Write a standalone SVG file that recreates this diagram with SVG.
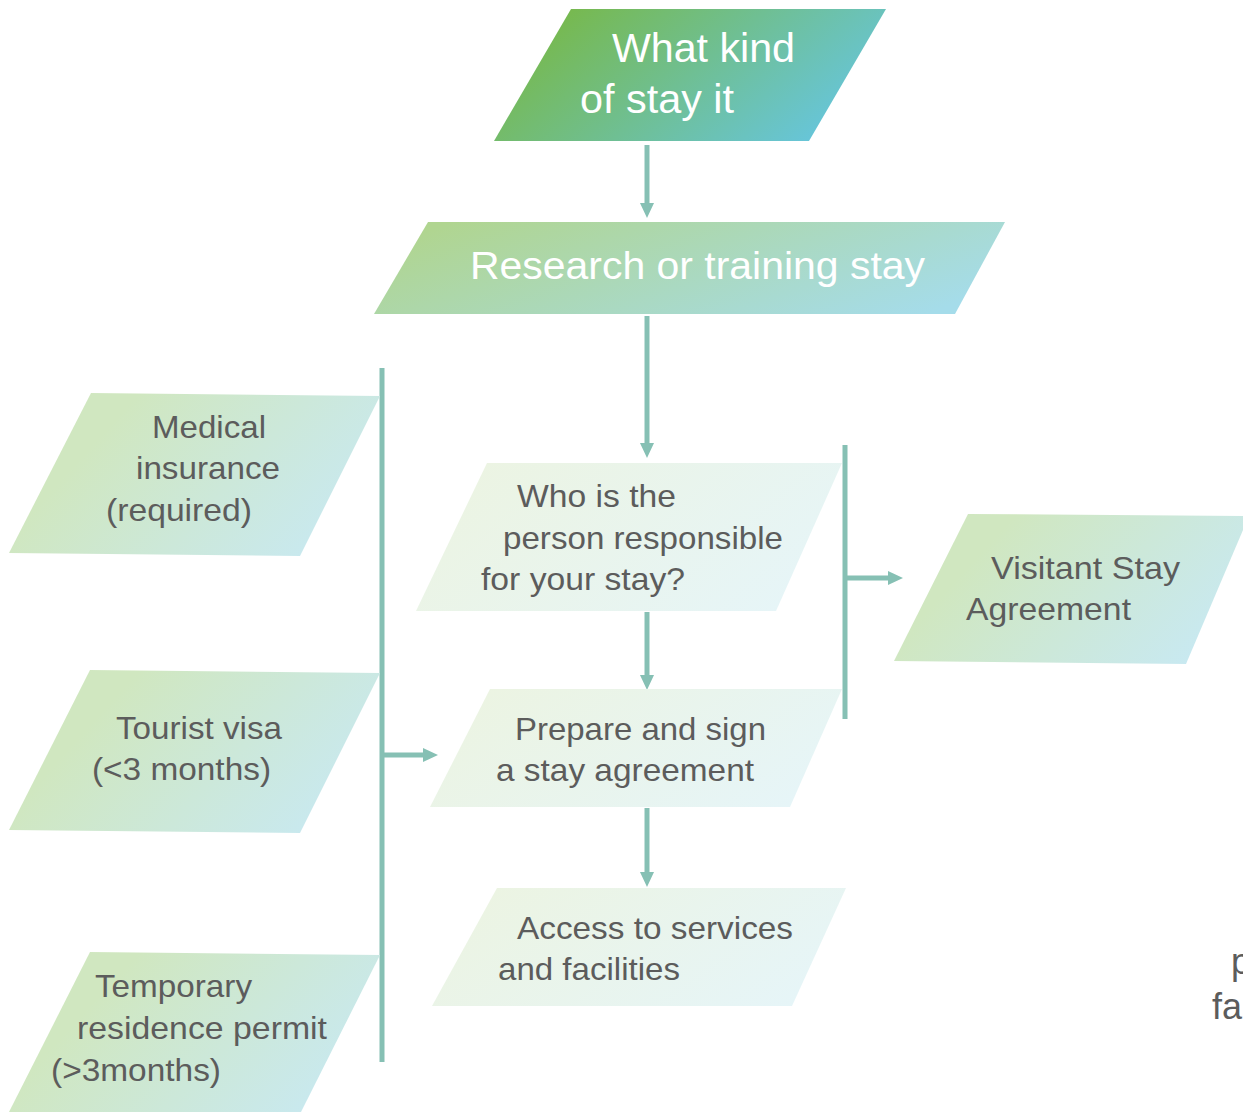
<svg xmlns="http://www.w3.org/2000/svg" width="1243" height="1112" viewBox="0 0 1243 1112">
<defs>
<linearGradient id="gTop" x1="0" y1="0.3" x2="1" y2="0.7"><stop offset="0" stop-color="#78b845"/><stop offset="1" stop-color="#66c6e2"/></linearGradient>
<linearGradient id="gRes" x1="0" y1="0.3" x2="1" y2="0.7"><stop offset="0" stop-color="#b0d590"/><stop offset="1" stop-color="#a5dcea"/></linearGradient>
<linearGradient id="gLight" x1="0" y1="0.3" x2="1" y2="0.7"><stop offset="0" stop-color="#ecf4e2"/><stop offset="1" stop-color="#e6f5f8"/></linearGradient>
<linearGradient id="gSide" x1="0" y1="0.3" x2="1" y2="0.7"><stop offset="0.2" stop-color="#d0e7c0"/><stop offset="1" stop-color="#c8e9f3"/></linearGradient>
<marker id="arr" markerUnits="userSpaceOnUse" markerWidth="16" markerHeight="16" refX="0" refY="8" orient="auto" viewBox="0 0 16 16"><path d="M0,1 L15,8 L0,15 Z" fill="#86c0b4"/></marker>
<style>
.dk{font-family:"Liberation Sans",Arial,sans-serif;font-size:32px;fill:#5c5c5c;}
.wt{font-family:"Liberation Sans",Arial,sans-serif;fill:#ffffff;}
.ln{stroke:#86c0b4;stroke-width:5;fill:none;}
.edge{font-family:"Liberation Sans",Arial,sans-serif;font-size:36px;fill:#5c5c5c;}
</style>
</defs>
<rect width="1243" height="1112" fill="#ffffff"/>
<g id="connectors">
<line class="ln" x1="647" y1="145" x2="647" y2="203" marker-end="url(#arr)"/>
<line class="ln" x1="647" y1="316" x2="647" y2="443" marker-end="url(#arr)"/>
<line class="ln" x1="647" y1="612" x2="647" y2="675" marker-end="url(#arr)"/>
<line class="ln" x1="647" y1="808" x2="647" y2="872" marker-end="url(#arr)"/>
<line class="ln" x1="382" y1="368" x2="382" y2="1062"/>
<line class="ln" x1="845" y1="445" x2="845" y2="719"/>
<line class="ln" x1="847" y1="578" x2="888" y2="578" marker-end="url(#arr)"/>
<line class="ln" x1="384" y1="755" x2="423" y2="755" marker-end="url(#arr)"/>
</g>
<g id="n-top">
<polygon points="571,9 886,9 809,141 494,141" fill="url(#gTop)"/>
<text class="wt" font-size="40" x="612" y="62" textLength="183" lengthAdjust="spacingAndGlyphs">What kind</text>
<text class="wt" font-size="40" x="580" y="113" textLength="154" lengthAdjust="spacingAndGlyphs">of stay it</text>
</g>
<g id="n-research">
<polygon points="428,222 1005,222 955,314 374,314" fill="url(#gRes)"/>
<text class="wt" font-size="38" x="470" y="279" textLength="455" lengthAdjust="spacingAndGlyphs">Research or training stay</text>
</g>
<g id="n-who">
<polygon points="487,463 842,463 776,611 416,611" fill="url(#gLight)"/>
<text class="dk" x="517" y="507" textLength="159" lengthAdjust="spacingAndGlyphs">Who is the</text>
<text class="dk" x="503" y="549" textLength="280" lengthAdjust="spacingAndGlyphs">person responsible</text>
<text class="dk" x="481" y="590" textLength="204" lengthAdjust="spacingAndGlyphs">for your stay?</text>
</g>
<g id="n-prepare">
<polygon points="490,689 842,689 790,807 430,807" fill="url(#gLight)"/>
<text class="dk" x="515" y="740" textLength="251" lengthAdjust="spacingAndGlyphs">Prepare and sign</text>
<text class="dk" x="496" y="781" textLength="258" lengthAdjust="spacingAndGlyphs">a stay agreement</text>
</g>
<g id="n-access">
<polygon points="497,888 846,888 792,1006 432,1006" fill="url(#gLight)"/>
<text class="dk" x="517" y="939" textLength="276" lengthAdjust="spacingAndGlyphs">Access to services</text>
<text class="dk" x="498" y="980" textLength="182" lengthAdjust="spacingAndGlyphs">and facilities</text>
</g>
<g id="n-visitant">
<polygon points="968,514 1243,516 1243,530 1186,664 894,661" fill="url(#gSide)"/>
<text class="dk" x="991" y="579" textLength="189" lengthAdjust="spacingAndGlyphs">Visitant Stay</text>
<text class="dk" x="966" y="620" textLength="165" lengthAdjust="spacingAndGlyphs">Agreement</text>
</g>
<g id="n-medical">
<polygon points="91,393 380,396 300,556 9,553" fill="url(#gSide)"/>
<text class="dk" x="152" y="438" textLength="114" lengthAdjust="spacingAndGlyphs">Medical</text>
<text class="dk" x="136" y="479" textLength="144" lengthAdjust="spacingAndGlyphs">insurance</text>
<text class="dk" x="106" y="521" textLength="146" lengthAdjust="spacingAndGlyphs">(required)</text>
</g>
<g id="n-tourist">
<polygon points="90,670 380,673 300,833 9,830" fill="url(#gSide)"/>
<text class="dk" x="116" y="739" textLength="166" lengthAdjust="spacingAndGlyphs">Tourist visa</text>
<text class="dk" x="92" y="780" textLength="179" lengthAdjust="spacingAndGlyphs">(&lt;3 months)</text>
</g>
<g id="n-temporary">
<polygon points="90,952 380,955 301,1112 9,1112" fill="url(#gSide)"/>
<text class="dk" x="95" y="997" textLength="157" lengthAdjust="spacingAndGlyphs">Temporary</text>
<text class="dk" x="77" y="1039" textLength="250" lengthAdjust="spacingAndGlyphs">residence permit</text>
<text class="dk" x="51" y="1081" textLength="170" lengthAdjust="spacingAndGlyphs">(&gt;3months)</text>
</g>
<g id="edge-text">
<text class="edge" x="1231" y="974">p</text>
<text class="edge" x="1212" y="1019">fa</text>
</g>
</svg>
